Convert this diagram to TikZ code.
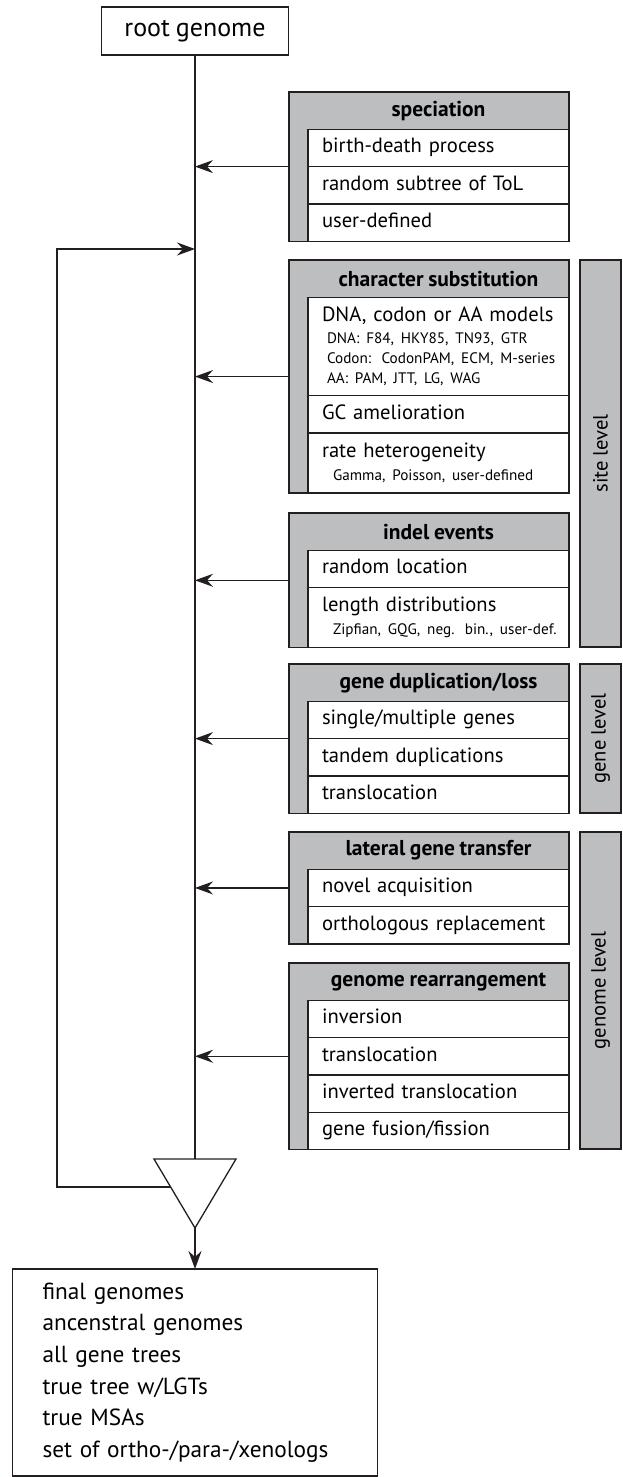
\documentclass[tikz,border=0pt]{standalone}
\usepackage{fontspec}
\setmainfont{PT Sans}[WordSpace=0.85]
\usetikzlibrary{positioning,calc,arrows.meta}
\definecolor{boxgray}{RGB}{188,190,192}
\definecolor{ink}{RGB}{35,31,32}
\newcommand{\rowfont}{\fontsize{20.6}{23}\selectfont}
\newcommand{\headfont}{\fontsize{21.5}{23}\selectfont\bfseries}
\newcommand{\subfont}{\fontsize{15.2}{19}\selectfont}
\newcommand{\bigfont}{\fontsize{23.3}{31.6}\selectfont}
\newcommand{\subline}[2]{\mbox{\hspace*{#1}\subfont #2}}
\tikzset{
  line/.style={draw=ink, line width=1.3pt},
  arr/.style={line, -{Stealth[length=18pt,width=13pt,inset=6pt]}},
  module/.style={draw=ink, fill=boxgray, line width=1.3pt, minimum width=280pt,
    inner sep=0pt, outer sep=0pt, anchor=north west},
  head/.style={minimum width=261pt, minimum height=37.3pt, inner sep=0pt,
    outer sep=0pt, font=\headfont, anchor=north east},
  cell/.style={draw=ink, fill=white, line width=1.3pt, text width=233pt,
    inner xsep=14pt, inner ysep=0pt, outer sep=0pt, align=left, font=\rowfont},
  row/.style={cell, minimum height=37.3pt, text height=14pt, text depth=4.5pt},
  tallrow/.style={cell, minimum height=#1},
  level/.style={draw=ink, fill=boxgray, line width=1.3pt, rotate=90,
    minimum height=41pt, inner sep=0pt, outer sep=0pt, font=\rowfont},
  endbox/.style={draw=ink, line width=1.3pt, font=\bigfont, outer sep=0pt}
}
\begin{document}
\begin{tikzpicture}[x=1pt, y=-1pt]
  \useasboundingbox (0,0) rectangle (623,1477);
  \node[endbox, minimum width=187pt, minimum height=48pt, font=\fontsize{26}{30}\selectfont]
    (root) at (195,31) {root genome};

  % speciation
  \node[module, minimum height=149.2pt] (spec) at (289,92) {};
  \node[head] (spec-h) at (spec.north east) {speciation};
  \node[row, below=0pt of spec-h] (spec-1) {birth-death process};
  \node[row, below=0pt of spec-1] (spec-2) {random subtree of ToL};
  \node[row, below=0pt of spec-2] (spec-3) {user-defined};

  % character substitution
  \node[module, minimum height=233.1pt] (subs) at (289,260) {};
  \node[head] (subs-h) at (subs.north east) {character substitution};
  \node[tallrow=98.5pt, below=0pt of subs-h] (subs-1) {DNA, codon or AA models\\[-1pt]
    \subline{5pt}{DNA: F84, HKY85, TN93, GTR}\\[-3pt]
    \subline{5pt}{Codon: CodonPAM, ECM, M-series}\\[-3pt]
    \subline{5pt}{AA: PAM, JTT, LG, WAG}};
  \node[row, below=0pt of subs-1] (subs-2) {GC amelioration};
  \node[tallrow=60pt, below=0pt of subs-2] (subs-3) {rate heterogeneity\\[0pt]
    \subline{11pt}{Gamma, Poisson, user-defined}};

  % indel events
  \node[module, minimum height=134.6pt] (indel) at (289,513) {};
  \node[head] (indel-h) at (indel.north east) {indel events};
  \node[row, below=0pt of indel-h] (indel-1) {random location};
  \node[tallrow=60pt, below=0pt of indel-1] (indel-2) {length distributions\\[0pt]
    \subline{11pt}{Zipfian, GQG, neg. bin., user-def.}};

  % gene duplication/loss
  \node[module, minimum height=149.2pt] (gdup) at (289,664) {};
  \node[head] (gdup-h) at (gdup.north east) {gene duplication/loss};
  \node[row, below=0pt of gdup-h] (gdup-1) {single/multiple genes};
  \node[row, below=0pt of gdup-1] (gdup-2) {tandem duplications};
  \node[row, below=0pt of gdup-2] (gdup-3) {translocation};

  % lateral gene transfer
  \node[module, minimum height=111.9pt] (lgt) at (289,832) {};
  \node[head] (lgt-h) at (lgt.north east) {lateral gene transfer};
  \node[row, below=0pt of lgt-h] (lgt-1) {novel acquisition};
  \node[row, below=0pt of lgt-1] (lgt-2) {orthologous replacement};

  % genome rearrangement
  \node[module, minimum height=186.5pt] (grea) at (289,963) {};
  \node[head] (grea-h) at (grea.north east) {genome rearrangement};
  \node[row, below=0pt of grea-h] (grea-1) {inversion};
  \node[row, below=0pt of grea-1] (grea-2) {translocation};
  \node[row, below=0pt of grea-2] (grea-3) {inverted translocation};
  \node[row, below=0pt of grea-3] (grea-4) {gene fusion/fission};

  % levels
  \node[level, minimum width=387pt] (site) at (600.5,453.5) {site level};
  \node[level, minimum width=149pt] (gene) at (600.5,738.5) {gene level};
  \node[level, minimum width=317pt] (genome) at (600.5,990.5) {genome level};

  % triangle and main line
  \coordinate (tl) at (154,1159); \coordinate (tr) at (236,1159);
  \coordinate (apex) at (195,1228);
  \draw[line, line join=miter] (tl) -- (tr) -- (apex) -- cycle;
  \draw[line] (root.south) -- (root.south |- tl);
  \draw[arr] (spec.west) -- (spec.west -| root.south);
  \draw[arr] (subs.west) -- (subs.west -| root.south);
  \draw[arr] (indel.west) -- (indel.west -| root.south);
  \draw[arr] (gdup.west) -- (gdup.west -| root.south);
  \draw[arr] (lgt.west) -- (lgt.west -| root.south);
  \draw[arr] (grea.west) -- (grea.west -| root.south);

  % loop back
  \coordinate (loopin) at ($(tl)!0.406!(apex)$);
  \coordinate (loopcorner) at (57,249);
  \draw[arr] (loopin) -| (loopcorner) -- (loopcorner -| root.south);

  \node[endbox, anchor=north, text width=305pt, inner xsep=30pt, align=left,
    minimum height=207pt] (final) at (195,1269) {final genomes\\ancenstral genomes\\all gene trees\\true tree w/LGTs\\true MSAs\\set of ortho-/para-/xenologs};
  \draw[arr] (apex) -- (final.north);
\end{tikzpicture}
\end{document}
